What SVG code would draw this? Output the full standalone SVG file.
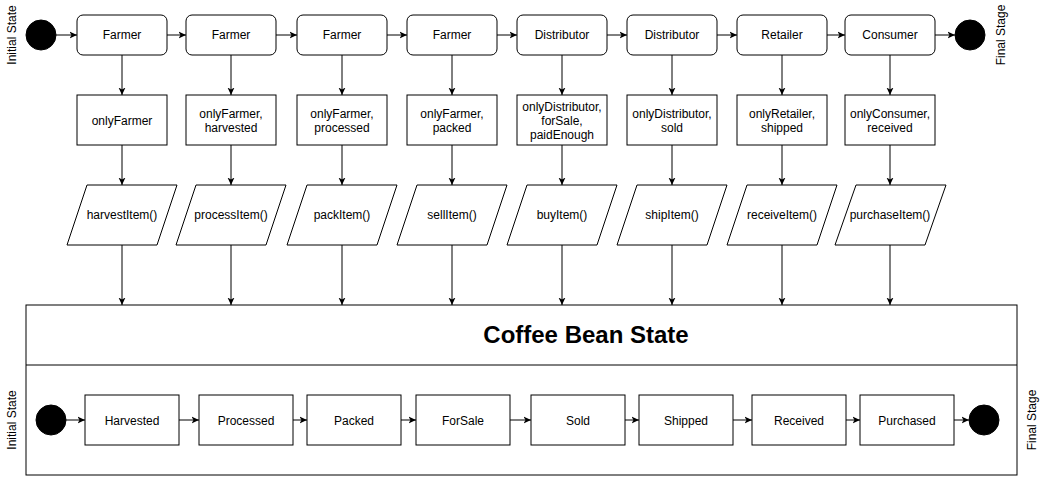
<svg xmlns="http://www.w3.org/2000/svg" width="1051" height="477" viewBox="0 0 1051 477">
<style>
  text { font-family: "Liberation Sans", Arial, Helvetica, sans-serif; font-size: 12px; fill: #000; text-anchor: middle; }
  .box { fill: #fff; stroke: #000; stroke-width: 1; }
  .dot { fill: #000; stroke: #000; }
  .edge { fill: none; stroke: #000; stroke-width: 1; marker-end: url(#arr); }
  .title { font-size: 24px; font-weight: bold; }
</style>
<defs>
  <marker id="arr" viewBox="0 0 8 8" refX="7.5" refY="4" markerWidth="8" markerHeight="8" markerUnits="userSpaceOnUse" orient="auto">
    <path d="M0,0.5 L7.5,4 L0,7.5 L2,4 Z" fill="#000" stroke="none"/>
  </marker>
</defs>
<rect width="1051" height="477" fill="#fff"/>

<!-- side labels -->
<text transform="translate(16,35) rotate(-90)">Initial State</text>
<text transform="translate(1005,35) rotate(-90)">Final Stage</text>
<text transform="translate(16,420) rotate(-90)">Initial State</text>
<text transform="translate(1036,420) rotate(-90)">Final Stage</text>

<!-- top row -->
<g id="start-top"><circle class="dot" cx="41" cy="35" r="15"/></g>
<g id="role1"><rect class="box" x="77" y="15" width="90" height="40" rx="6"/><text x="122" y="39">Farmer</text></g>
<g id="role2"><rect class="box" x="186" y="15" width="90" height="40" rx="6"/><text x="231" y="39">Farmer</text></g>
<g id="role3"><rect class="box" x="297" y="15" width="90" height="40" rx="6"/><text x="342" y="39">Farmer</text></g>
<g id="role4"><rect class="box" x="407" y="15" width="90" height="40" rx="6"/><text x="452" y="39">Farmer</text></g>
<g id="role5"><rect class="box" x="517" y="15" width="90" height="40" rx="6"/><text x="562" y="39">Distributor</text></g>
<g id="role6"><rect class="box" x="627" y="15" width="90" height="40" rx="6"/><text x="672" y="39">Distributor</text></g>
<g id="role7"><rect class="box" x="737" y="15" width="90" height="40" rx="6"/><text x="782" y="39">Retailer</text></g>
<g id="role8"><rect class="box" x="845" y="15" width="90" height="40" rx="6"/><text x="890" y="39">Consumer</text></g>
<g id="end-top"><circle class="dot" cx="970" cy="35" r="15"/></g>

<!-- modifiers -->
<g id="mod1"><rect class="box" x="77" y="95" width="90" height="50"/><text x="122" y="124.5">onlyFarmer</text></g>
<g id="mod2"><rect class="box" x="186" y="95" width="90" height="50"/><text x="231" y="117.5">onlyFarmer,</text><text x="231" y="131.5">harvested</text></g>
<g id="mod3"><rect class="box" x="297" y="95" width="90" height="50"/><text x="342" y="117.5">onlyFarmer,</text><text x="342" y="131.5">processed</text></g>
<g id="mod4"><rect class="box" x="407" y="95" width="90" height="50"/><text x="452" y="117.5">onlyFarmer,</text><text x="452" y="131.5">packed</text></g>
<g id="mod5"><rect class="box" x="517" y="95" width="90" height="50"/><text x="562" y="110.5">onlyDistributor,</text><text x="562" y="124.5">forSale,</text><text x="562" y="138.5">paidEnough</text></g>
<g id="mod6"><rect class="box" x="627" y="95" width="90" height="50"/><text x="672" y="117.5">onlyDistributor,</text><text x="672" y="131.5">sold</text></g>
<g id="mod7"><rect class="box" x="737" y="95" width="90" height="50"/><text x="782" y="117.5">onlyRetailer,</text><text x="782" y="131.5">shipped</text></g>
<g id="mod8"><rect class="box" x="845" y="95" width="90" height="50"/><text x="890" y="117.5">onlyConsumer,</text><text x="890" y="131.5">received</text></g>

<!-- functions -->
<g id="fn1"><path class="box" d="M87,185 H177 L157,245 H67 Z"/><text x="122" y="219">harvestItem()</text></g>
<g id="fn2"><path class="box" d="M196,185 H286 L266,245 H176 Z"/><text x="231" y="219">processItem()</text></g>
<g id="fn3"><path class="box" d="M307,185 H397 L377,245 H287 Z"/><text x="342" y="219">packItem()</text></g>
<g id="fn4"><path class="box" d="M417,185 H507 L487,245 H397 Z"/><text x="452" y="219">sellItem()</text></g>
<g id="fn5"><path class="box" d="M527,185 H617 L597,245 H507 Z"/><text x="562" y="219">buyItem()</text></g>
<g id="fn6"><path class="box" d="M637,185 H727 L707,245 H617 Z"/><text x="672" y="219">shipItem()</text></g>
<g id="fn7"><path class="box" d="M747,185 H837 L817,245 H727 Z"/><text x="782" y="219">receiveItem()</text></g>
<g id="fn8"><path class="box" d="M856,185 H946 L925,245 H835 Z"/><text x="890" y="219">purchaseItem()</text></g>

<!-- container -->
<g id="coffee-bean-state">
  <rect class="box" x="26" y="305" width="991" height="170"/>
  <line x1="26" y1="365" x2="1017" y2="365" stroke="#000"/>
  <text class="title" x="586" y="343">Coffee Bean State</text>
</g>

<!-- states -->
<g id="start-bottom"><circle class="dot" cx="51" cy="420" r="15"/></g>
<g id="s1"><rect class="box" x="85" y="395" width="94" height="50"/><text x="132" y="424.5">Harvested</text></g>
<g id="s2"><rect class="box" x="199" y="395" width="94" height="50"/><text x="246" y="424.5">Processed</text></g>
<g id="s3"><rect class="box" x="307" y="395" width="94" height="50"/><text x="354" y="424.5">Packed</text></g>
<g id="s4"><rect class="box" x="416" y="395" width="94" height="50"/><text x="463" y="424.5">ForSale</text></g>
<g id="s5"><rect class="box" x="531" y="395" width="94" height="50"/><text x="578" y="424.5">Sold</text></g>
<g id="s6"><rect class="box" x="639" y="395" width="94" height="50"/><text x="686" y="424.5">Shipped</text></g>
<g id="s7"><rect class="box" x="752" y="395" width="94" height="50"/><text x="799" y="424.5">Received</text></g>
<g id="s8"><rect class="box" x="860" y="395" width="94" height="50"/><text x="907" y="424.5">Purchased</text></g>
<g id="end-bottom"><circle class="dot" cx="984" cy="420" r="15"/></g>

<!-- connectors -->
<g id="connectors">
  <path class="edge" d="M56,35 H77"/>
  <path class="edge" d="M167,35 H186"/>
  <path class="edge" d="M276,35 H297"/>
  <path class="edge" d="M387,35 H407"/>
  <path class="edge" d="M497,35 H517"/>
  <path class="edge" d="M607,35 H627"/>
  <path class="edge" d="M717,35 H737"/>
  <path class="edge" d="M827,35 H845"/>
  <path class="edge" d="M935,35 H955"/>

  <path class="edge" d="M122,55 V95"/>
  <path class="edge" d="M231,55 V95"/>
  <path class="edge" d="M342,55 V95"/>
  <path class="edge" d="M452,55 V95"/>
  <path class="edge" d="M562,55 V95"/>
  <path class="edge" d="M672,55 V95"/>
  <path class="edge" d="M782,55 V95"/>
  <path class="edge" d="M890,55 V95"/>

  <path class="edge" d="M122,145 V185"/>
  <path class="edge" d="M231,145 V185"/>
  <path class="edge" d="M342,145 V185"/>
  <path class="edge" d="M452,145 V185"/>
  <path class="edge" d="M562,145 V185"/>
  <path class="edge" d="M672,145 V185"/>
  <path class="edge" d="M782,145 V185"/>
  <path class="edge" d="M890,145 V185"/>

  <path class="edge" d="M122,245 V305"/>
  <path class="edge" d="M231,245 V305"/>
  <path class="edge" d="M342,245 V305"/>
  <path class="edge" d="M452,245 V305"/>
  <path class="edge" d="M562,245 V305"/>
  <path class="edge" d="M672,245 V305"/>
  <path class="edge" d="M782,245 V305"/>
  <path class="edge" d="M890,245 V305"/>

  <path class="edge" d="M66,420 H85"/>
  <path class="edge" d="M179,420 H199"/>
  <path class="edge" d="M293,420 H307"/>
  <path class="edge" d="M401,420 H416"/>
  <path class="edge" d="M510,420 H531"/>
  <path class="edge" d="M625,420 H639"/>
  <path class="edge" d="M733,420 H752"/>
  <path class="edge" d="M846,420 H860"/>
  <path class="edge" d="M954,420 H969"/>
</g>
</svg>
